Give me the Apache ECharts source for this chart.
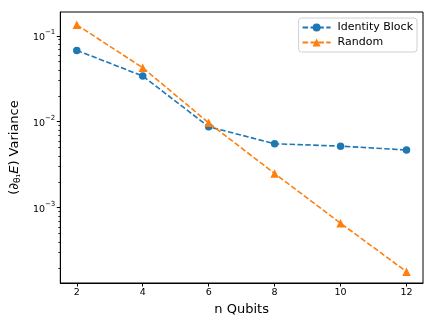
<!DOCTYPE html>
<html><head><meta charset="utf-8">
<script src="https://cdn.jsdelivr.net/npm/echarts@6/dist/echarts.min.js"></script>
<style>html,body{margin:0;padding:0;background:#fff}#c{width:436px;height:327px}</style>
</head><body><div id="c"></div>
<script>
const qubits = [2, 4, 6, 8, 10, 12];
const identityBlock = [0.0676, 0.034, 0.00875, 0.00554, 0.0052, 0.00469];
const randomInit = [0.134, 0.0425, 0.0097, 0.0025, 0.00066, 0.00018];
const xTicks = [2, 4, 6, 8, 10, 12];
const yMajorTicks = [0.001, 0.01, 0.1];
const yMinorTicks = [0.0002,0.0003,0.0004,0.0005,0.0006,0.0007,0.0008,0.0009,
  0.002,0.003,0.004,0.005,0.006,0.007,0.008,0.009,
  0.02,0.03,0.04,0.05,0.06,0.07,0.08,0.09];
const Y_MIN = 1.33e-4, Y_MAX = 0.189;
const FONT = 'DejaVu Sans';

const chart = echarts.init(document.getElementById('c'), null, {renderer: 'canvas'});
const pair = (ys) => qubits.map((x, i) => [x, ys[i]]);
const supFmt = (v) => {
  const e = Math.round(Math.log10(v));
  return '{b|10}{e|' + (e < 0 ? '\u2212' + (-e) : e) + '}';
};
chart.setOption({
  animation: false,
  textStyle: {fontFamily: FONT},
  grid: {left: 60, right: 13, top: 12, bottom: 44, show: true, borderColor: '#000', borderWidth: 1, backgroundColor: 'transparent'},
  legend: {
    right: 19, top: 18, orient: 'vertical', itemGap: 4, itemWidth: 28, itemHeight: 10,
    borderColor: '#d0d0d0', borderWidth: 1, borderRadius: 3, padding: [4, 4, 4, 3],
    textStyle: {fontFamily: FONT, fontSize: 11, color: '#000', padding: [0, 0, 0, 2]},
    data: ['Identity Block', 'Random']
  },
  xAxis: {
    type: 'value', min: 1.5, max: 12.5,
    name: 'n Qubits', nameLocation: 'middle', nameGap: 19,
    nameTextStyle: {fontFamily: FONT, fontSize: 13, color: '#000'},
    axisLine: {show: true, lineStyle: {color: '#000', width: 1}},
    axisTick: {show: true, customValues: xTicks, length: 3.5, lineStyle: {color: '#000'}},
    axisLabel: {customValues: xTicks, fontFamily: FONT, fontSize: 9.5, color: '#000', margin: 5},
    splitLine: {show: false}
  },
  yAxis: [{
    type: 'log', logBase: 10, min: Y_MIN, max: Y_MAX,
    name: '{n|(\u2202}{s|\u03b8\u2081}{i|E}{n|) Variance}', nameLocation: 'middle', nameGap: 33,
    nameTextStyle: {fontFamily: FONT, fontSize: 13, color: '#000',
      rich: {n: {fontFamily: FONT, fontSize: 13, color: '#000'},
             s: {fontFamily: FONT, fontSize: 9, color: '#000', verticalAlign: 'bottom', padding: [6, 0, 0, 0]},
             i: {fontFamily: FONT, fontSize: 13, fontStyle: 'italic', color: '#000'}}},
    axisLine: {show: true, lineStyle: {color: '#000', width: 1}},
    axisTick: {show: true, customValues: yMajorTicks, length: 3.5, lineStyle: {color: '#000'}},
    axisLabel: {customValues: yMajorTicks, formatter: supFmt, margin: 5,
      rich: {b: {fontFamily: FONT, fontSize: 9.5, color: '#000', lineHeight: 14, verticalAlign: 'bottom'},
             e: {fontFamily: FONT, fontSize: 7, color: '#000', verticalAlign: 'top', lineHeight: 8}}},
    splitLine: {show: false}
  }, {
    type: 'log', logBase: 10, min: Y_MIN, max: Y_MAX, position: 'left',
    axisLine: {show: false},
    axisTick: {show: true, customValues: yMinorTicks, length: 2, lineStyle: {color: '#000', width: 0.8}},
    axisLabel: {show: false},
    splitLine: {show: false}
  }],
  series: [{
    name: 'Identity Block', type: 'line', data: pair(identityBlock),
    symbol: 'circle', symbolSize: 7.5, color: '#1f77b4',
    lineStyle: {type: [5.5, 2.4], width: 1.6, color: '#1f77b4'},
    itemStyle: {color: '#1f77b4'}
  }, {
    name: 'Random', type: 'line', data: pair(randomInit),
    symbol: 'triangle', symbolSize: 8.5, color: '#ff7f0e',
    lineStyle: {type: [5.5, 2.4], width: 1.6, color: '#ff7f0e'},
    itemStyle: {color: '#ff7f0e'}
  }]
});
</script></body></html>
